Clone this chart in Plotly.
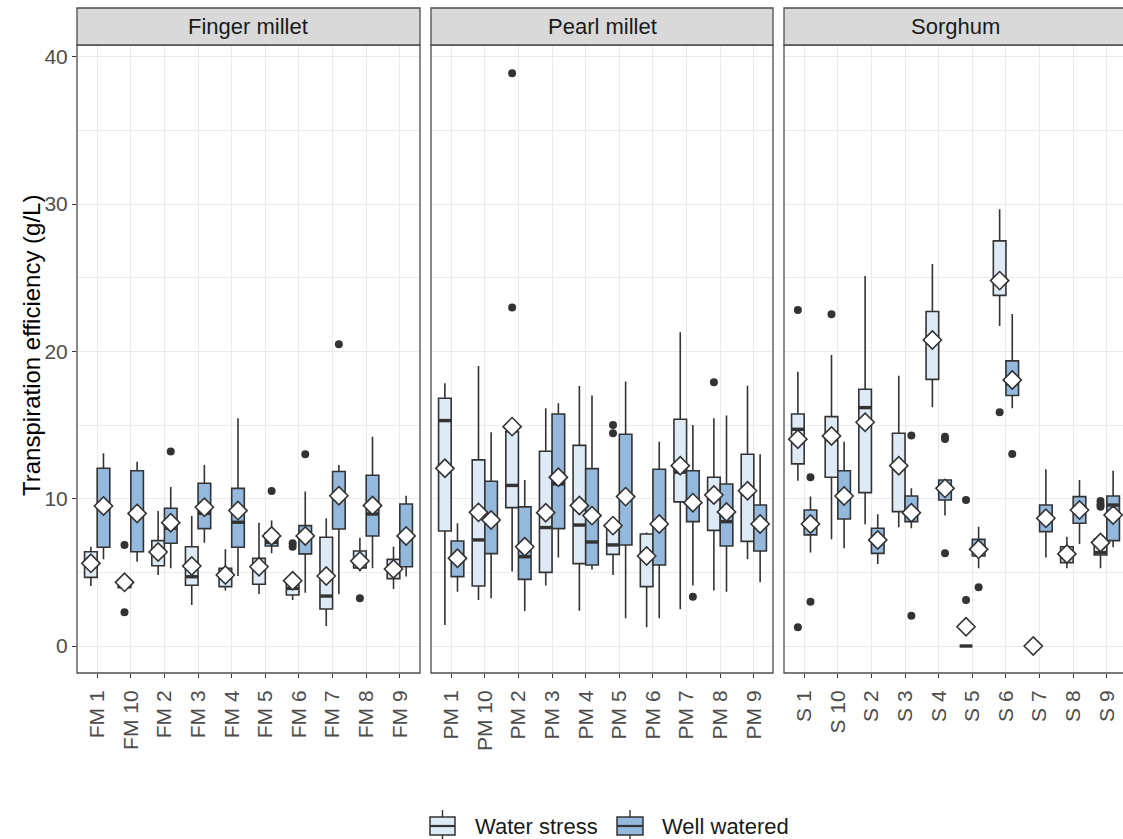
import plotly.graph_objects as go

W, H = 1123, 839

FM_CATS = ["FM 1", "FM 10", "FM 2", "FM 3", "FM 4", "FM 5", "FM 6", "FM 7", "FM 8", "FM 9"]
PM_CATS = ["PM 1", "PM 10", "PM 2", "PM 3", "PM 4", "PM 5", "PM 6", "PM 7", "PM 8", "PM 9"]
S_CATS = ["S 1", "S 10", "S 2", "S 3", "S 4", "S 5", "S 6", "S 7", "S 8", "S 9"]
CROPS = ["Finger millet", "Pearl millet", "Sorghum"]
GROUPS = ["Water stress", "Well watered"]

# rows: (lower whisker, Q1, median, Q3, upper whisker, mean)
FM_WS = [
    (4.07, 4.66, 5.70, 6.40, 6.74, 5.61),
    (3.87, 3.95, 4.30, 4.45, 4.50, 4.32),
    (4.82, 5.45, 6.40, 7.15, 9.17, 6.38),
    (2.78, 4.12, 4.70, 6.74, 8.83, 5.43),
    (3.76, 4.03, 4.80, 5.27, 6.56, 4.82),
    (3.53, 4.19, 5.40, 5.95, 8.37, 5.38),
    (3.12, 3.46, 3.91, 4.60, 4.89, 4.43),
    (1.36, 2.51, 3.39, 7.38, 8.67, 4.75),
    (5.05, 5.30, 5.80, 6.45, 7.35, 5.77),
    (3.87, 4.57, 5.30, 5.88, 6.74, 5.23),
]
FM_WS_OUT = [[], [6.86, 2.29], [], [], [], [], [6.97, 6.74], [], [3.24], []]
FM_WW = [
    (5.88, 6.70, 9.50, 12.06, 13.08, 9.50),
    (5.72, 6.40, 8.90, 11.90, 12.50, 9.00),
    (5.27, 6.97, 8.00, 9.35, 10.80, 8.37),
    (7.01, 7.97, 9.00, 11.05, 12.29, 9.42),
    (4.75, 6.70, 8.40, 10.70, 15.46, 9.19),
    (6.29, 6.79, 7.04, 7.69, 8.51, 7.47),
    (3.62, 6.25, 7.70, 8.17, 10.48, 7.47),
    (3.51, 7.94, 10.20, 11.84, 12.29, 10.20),
    (5.27, 7.47, 8.96, 11.59, 14.21, 9.53),
    (4.71, 5.38, 7.50, 9.64, 10.20, 7.47),
]
FM_WW_OUT = [[], [], [13.2], [], [], [10.52], [13.01], [20.48], [], []]

PM_WS = [
    (1.43, 7.81, 15.30, 16.82, 17.83, 12.06),
    (3.12, 4.07, 7.20, 12.63, 19.00, 9.07),
    (5.05, 9.39, 10.90, 14.55, 14.60, 14.89),
    (4.10, 5.00, 8.04, 13.22, 16.13, 9.05),
    (2.40, 5.59, 8.21, 13.62, 17.65, 9.53),
    (4.82, 6.22, 6.86, 8.10, 8.30, 8.17),
    (1.27, 4.03, 6.00, 7.60, 7.70, 6.11),
    (2.49, 9.78, 11.80, 15.39, 21.30, 12.24),
    (3.76, 7.85, 10.00, 11.45, 15.46, 10.25),
    (5.88, 7.10, 10.30, 13.01, 17.67, 10.54),
]
PM_WS_OUT = [[], [], [22.97, 38.88], [], [], [15.0, 14.44], [], [], [17.9], []]
PM_WW = [
    (3.69, 4.71, 5.90, 7.13, 8.33, 5.95),
    (3.24, 6.27, 8.50, 11.18, 14.50, 8.55),
    (2.38, 4.52, 6.06, 9.44, 11.27, 6.74),
    (6.00, 7.97, 11.00, 15.75, 16.47, 11.45),
    (5.20, 5.50, 7.06, 12.04, 17.00, 8.85),
    (1.88, 6.86, 10.00, 14.37, 17.95, 10.14),
    (1.88, 5.50, 8.30, 12.00, 13.87, 8.28),
    (4.10, 8.44, 9.70, 11.90, 15.00, 9.73),
    (3.69, 6.79, 8.44, 11.00, 15.64, 9.10),
    (4.32, 6.45, 8.30, 9.57, 13.01, 8.28),
]
PM_WW_OUT = [[], [], [], [], [], [], [], [3.35], [], []]

S_WS = [
    (11.22, 12.36, 14.71, 15.75, 18.62, 14.04),
    (7.24, 11.45, 14.00, 15.57, 19.76, 14.26),
    (8.26, 10.41, 16.18, 17.43, 25.12, 15.19),
    (8.06, 9.12, 12.00, 14.44, 18.35, 12.24),
    (16.20, 18.10, 20.80, 22.70, 25.93, 20.77),
    (0.00, 0.00, 0.00, 0.00, 0.00, 1.31),
    (21.72, 23.80, 24.80, 27.50, 29.64, 24.80),
    (0.00, 0.00, 0.00, 0.00, 0.00, 0.00),
    (5.27, 5.66, 6.20, 6.74, 7.42, 6.25),
    (5.27, 6.18, 6.34, 7.24, 7.24, 7.02),
]
S_WS_OUT = [[1.27, 22.8], [22.52], [], [], [], [9.91, 3.12], [15.87], [], [], [9.84, 9.6, 9.46]]
S_WW = [
    (6.34, 7.54, 8.50, 9.23, 10.14, 8.28),
    (6.63, 8.62, 10.00, 11.90, 13.87, 10.18),
    (5.57, 6.29, 7.00, 7.99, 8.94, 7.20),
    (7.99, 8.44, 9.00, 10.18, 10.70, 9.05),
    (8.85, 9.91, 10.60, 11.27, 11.27, 10.70),
    (5.27, 6.11, 6.60, 7.24, 8.10, 6.56),
    (16.13, 17.00, 17.80, 19.35, 22.54, 18.06),
    (6.00, 7.76, 8.60, 9.57, 12.00, 8.67),
    (6.92, 8.33, 9.20, 10.14, 11.27, 9.23),
    (6.70, 7.15, 9.57, 10.18, 11.90, 8.89),
]
S_WW_OUT = [[11.45, 3.01], [], [], [14.28, 2.06], [14.21, 14.05, 6.29], [3.98], [13.03], [], [], []]

Y_TICKS = [0, 10, 20, 30, 40]

FILLS = ["#DEEBF7", "#95B9DD"]
DARK = "#333333"
BORDER = "#4D4D4D"
FONT = "Liberation Sans, Arial, Helvetica, sans-serif"

panels = [
    (FM_CATS, [(FM_WS, FM_WS_OUT), (FM_WW, FM_WW_OUT)]),
    (PM_CATS, [(PM_WS, PM_WS_OUT), (PM_WW, PM_WW_OUT)]),
    (S_CATS, [(S_WS, S_WS_OUT), (S_WW, S_WW_OUT)]),
]

# pixel layout
PANEL_X = [(77, 420), (431, 773), (784, 1127)]
PANEL_TOP, PANEL_BOT = 45, 673
STRIP_TOP = 8
UNIT_PX = (PANEL_X[0][1] - PANEL_X[0][0]) / 10.2
Y0_PX, PX_PER_Y = 646.0, 14.733
Y_RANGE = [(Y0_PX - PANEL_BOT) / PX_PER_Y, (Y0_PX - PANEL_TOP) / PX_PER_Y]


def px(xp):
    return xp / W


def py(yp):
    return (H - yp) / H


fig = go.Figure()

for i, (cats, groups) in enumerate(panels):
    xa = "x" if i == 0 else f"x{i + 1}"
    ya = "y" if i == 0 else f"y{i + 1}"
    keys = ["WS", "WW"]
    for g, (stats, outs) in enumerate(groups):
        fig.add_trace(go.Box(
            x=cats,
            lowerfence=[s[0] for s in stats],
            q1=[s[1] for s in stats],
            median=[s[2] for s in stats],
            q3=[s[3] for s in stats],
            upperfence=[s[4] for s in stats],
            name=GROUPS[g], legendgroup=GROUPS[g], showlegend=False,
            offsetgroup=keys[g],
            fillcolor=FILLS[g], line=dict(color=DARK, width=1.6),
            whiskerwidth=0, boxpoints=False, hoverinfo="skip",
            xaxis=xa, yaxis=ya,
        ))
    for g, (stats, outs) in enumerate(groups):
        fig.add_trace(go.Scatter(
            x=cats, y=[s[2] for s in stats], mode="markers",
            offsetgroup=keys[g], showlegend=False, hoverinfo="skip",
            marker=dict(symbol="line-ew", size=9, color=DARK,
                        line=dict(color=DARK, width=3.4)),
            xaxis=xa, yaxis=ya,
        ))
    for g, (stats, outs) in enumerate(groups):
        ox, oy = [], []
        for c, vals in zip(cats, outs):
            for v in vals:
                ox.append(c)
                oy.append(v)
        fig.add_trace(go.Scatter(
            x=ox, y=oy, mode="markers",
            offsetgroup=keys[g], showlegend=False, hoverinfo="skip",
            marker=dict(symbol="circle", size=8, color=DARK, line=dict(width=0)),
            xaxis=xa, yaxis=ya,
        ))
    for g, (stats, outs) in enumerate(groups):
        fig.add_trace(go.Scatter(
            x=cats, y=[s[5] for s in stats], mode="markers",
            offsetgroup=keys[g], showlegend=False, hoverinfo="skip",
            marker=dict(symbol="diamond", size=14, color="white",
                        line=dict(color=DARK, width=1.6)),
            xaxis=xa, yaxis=ya,
        ))

layout = dict(
    width=W, height=H,
    margin=dict(l=0, r=0, t=0, b=0),
    paper_bgcolor="white", plot_bgcolor="white",
    boxmode="group", boxgap=0.25, boxgroupgap=0,
    scattermode="group", scattergap=0.25,
    font=dict(family=FONT, color="#4D4D4D", size=21),
    showlegend=False,
    shapes=[], annotations=[],
)

for i, (cats, groups) in enumerate(panels):
    x0p, x1p = PANEL_X[i]
    dom_hi = min(x1p, W)
    xr = [-0.6, -0.6 + (dom_hi - x0p) / UNIT_PX]
    xkey = "xaxis" if i == 0 else f"xaxis{i + 1}"
    ykey = "yaxis" if i == 0 else f"yaxis{i + 1}"
    ya = "y" if i == 0 else f"y{i + 1}"
    xa = "x" if i == 0 else f"x{i + 1}"
    layout[xkey] = dict(
        domain=[px(x0p), px(dom_hi)], anchor=ya,
        type="category", categoryorder="array", categoryarray=cats,
        range=xr, automargin=False,
        showgrid=True, gridcolor="#EBEBEB", gridwidth=1.2,
        ticks="outside", ticklen=4, tickwidth=1.1, tickcolor=DARK,
        tickangle=-90, tickfont=dict(size=21, color="#4D4D4D", family=FONT),
        ticklabelstandoff=4,
        showline=False, zeroline=False, fixedrange=True,
    )
    ydict = dict(
        domain=[py(PANEL_BOT), py(PANEL_TOP)], anchor=xa,
        range=Y_RANGE, automargin=False,
        tickvals=Y_TICKS,
        showgrid=True, gridcolor="#EBEBEB", gridwidth=1.2,
        minor=dict(dtick=5, tick0=0, showgrid=True, gridcolor="#EBEBEB", gridwidth=0.6),
        zeroline=False, showline=False, fixedrange=True,
    )
    if i == 0:
        ydict.update(ticks="outside", ticklen=4, tickwidth=1.1, tickcolor=DARK,
                     tickfont=dict(size=21, color="#4D4D4D", family=FONT),
                     showticklabels=True)
    else:
        ydict.update(matches="y", showticklabels=False, ticks="")
    layout[ykey] = ydict

    layout["shapes"].append(dict(
        type="rect", xref="paper", yref="paper", layer="above",
        x0=px(x0p), x1=px(x1p), y0=py(PANEL_BOT), y1=py(PANEL_TOP),
        line=dict(color=BORDER, width=1.3), fillcolor="rgba(0,0,0,0)",
    ))
    layout["shapes"].append(dict(
        type="rect", xref="paper", yref="paper", layer="above",
        x0=px(x0p), x1=px(x1p), y0=py(PANEL_TOP), y1=py(STRIP_TOP),
        line=dict(color=BORDER, width=1.3), fillcolor="#D9D9D9",
    ))
    layout["annotations"].append(dict(
        text=CROPS[i], xref="paper", yref="paper",
        x=px((x0p + x1p) / 2), y=py((PANEL_TOP + STRIP_TOP) / 2),
        xanchor="center", yanchor="middle", showarrow=False,
        font=dict(size=22, color="#1A1A1A", family=FONT),
    ))

layout["annotations"].append(dict(
    text="Transpiration efficiency (g/L)", xref="paper", yref="paper",
    x=px(31), y=py(346), xanchor="center", yanchor="middle", textangle=-90,
    showarrow=False, font=dict(size=24, color="black", family=FONT),
))

# legend keys (ggplot-style boxplot glyphs)
LEG_X = [(430, 455, 473), (617, 643, 660)]
LEG_Y_TOP, LEG_Y_BOT, LEG_Y_MID = 817, 835, 826
for g, (gx0, gx1, tx) in enumerate(LEG_X):
    cx = (gx0 + gx1) / 2
    layout["shapes"].append(dict(
        type="line", xref="paper", yref="paper",
        x0=px(cx), x1=px(cx), y0=py(810), y1=py(LEG_Y_TOP),
        line=dict(color=DARK, width=1.4),
    ))
    layout["shapes"].append(dict(
        type="line", xref="paper", yref="paper",
        x0=px(cx), x1=px(cx), y0=py(LEG_Y_BOT), y1=py(842),
        line=dict(color=DARK, width=1.4),
    ))
    layout["shapes"].append(dict(
        type="rect", xref="paper", yref="paper",
        x0=px(gx0), x1=px(gx1), y0=py(LEG_Y_BOT), y1=py(LEG_Y_TOP),
        line=dict(color=DARK, width=1.5), fillcolor=FILLS[g],
    ))
    layout["shapes"].append(dict(
        type="line", xref="paper", yref="paper",
        x0=px(gx0), x1=px(gx1), y0=py(LEG_Y_MID), y1=py(LEG_Y_MID),
        line=dict(color=DARK, width=2.2),
    ))
    layout["annotations"].append(dict(
        text=GROUPS[g], xref="paper", yref="paper",
        x=px(tx), y=py(LEG_Y_MID), xanchor="left", yanchor="middle",
        showarrow=False, font=dict(size=22, color="#1A1A1A", family=FONT),
    ))

fig.update_layout(**layout)
fig.write_html("out.html", config={"displayModeBar": False})
